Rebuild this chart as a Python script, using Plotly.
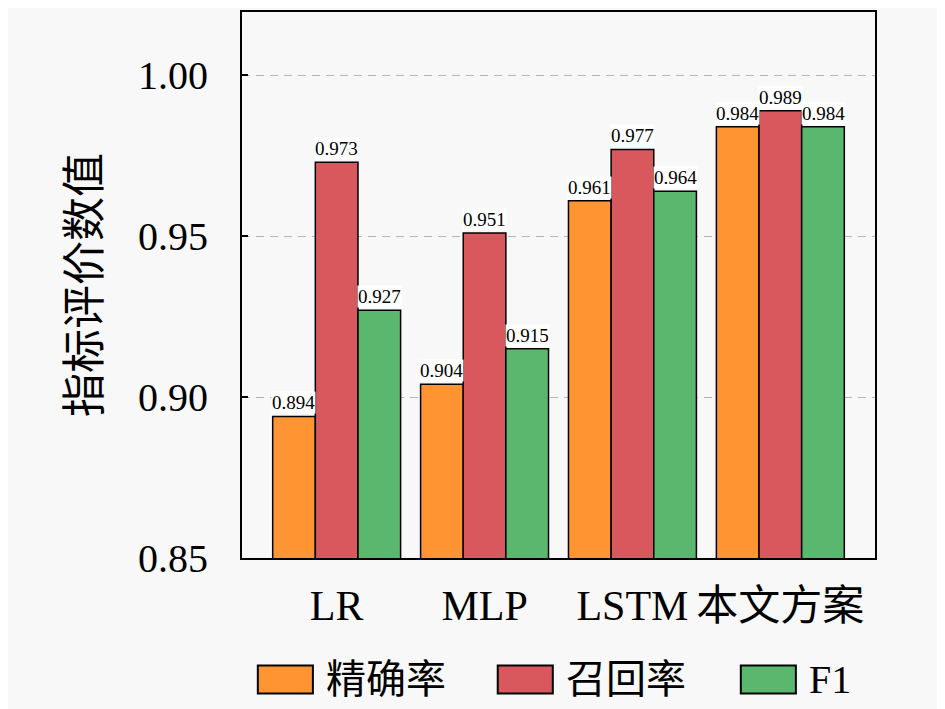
import plotly.graph_objects as go

models = ["LR", "MLP", "LSTM", "本文方案"]
metric_names = ["精确率", "召回率", "F1"]
precision = [0.894, 0.904, 0.961, 0.984]
recall = [0.973, 0.951, 0.977, 0.989]
f1 = [0.927, 0.915, 0.964, 0.984]
y_ticks = [0.85, 0.90, 0.95, 1.00]
y_tick_labels = ["0.85", "0.90", "0.95", "1.00"]

series = [precision, recall, f1]
colours = ["#FF9433", "#D9585E", "#5AB86E"]

font_family = "Liberation Serif, Noto Sans CJK SC"

fig = go.Figure()
for name, vals, col in zip(metric_names, series, colours):
    fig.add_trace(go.Bar(
        x=models,
        y=vals,
        name=name,
        showlegend=False,
        marker=dict(color=col, line=dict(color="black", width=1.5)),
    ))

# value labels above each bar, with a white box behind like the original
bar_px = 43
for j, vals in enumerate(series):
    for m, v in zip(models, vals):
        fig.add_annotation(
            x=m, y=v, text=f"{v:.3f}",
            xshift=(j - 1) * bar_px, yshift=2,
            yanchor="bottom", showarrow=False,
            bgcolor="white", borderpad=0,
            font=dict(size=19, color="black", family=font_family),
        )

# hand-made legend below the plot (big rectangular swatches)
legend_x = [0.025, 0.404, 0.788]  # left edge of each swatch, paper units
sw_w, sw_h, leg_y = 0.087, 0.051, -0.2226
for name, col, lx in zip(metric_names, colours, legend_x):
    fig.add_shape(
        type="rect", xref="paper", yref="paper",
        x0=lx, x1=lx + sw_w, y0=leg_y - sw_h / 2, y1=leg_y + sw_h / 2,
        fillcolor=col, line=dict(color="black", width=2),
    )
    fig.add_annotation(
        xref="paper", yref="paper", x=lx + sw_w + 0.018, y=leg_y,
        xanchor="left", yanchor="middle", showarrow=False,
        text=name, font=dict(size=40, color="black", family=font_family),
    )

fig.update_layout(
    width=945,
    height=709,
    margin=dict(l=234, r=78, t=2, b=159),
    paper_bgcolor="#f8f8f8",
    plot_bgcolor="#f8f8f8",
    barmode="group",
    bargap=0.135,
    bargroupgap=0,
    font=dict(family=font_family, color="black"),
)
fig.update_xaxes(
    range=[-0.64, 3.64],
    showline=True, linecolor="black", linewidth=2, mirror=True,
    tickfont=dict(size=42),
    ticks="", ticklabelstandoff=10,
)
fig.update_yaxes(
    range=[0.85, 1.0197],
    tickvals=y_ticks, ticktext=y_tick_labels,
    showline=True, linecolor="black", linewidth=2, mirror=True,
    ticks="inside", ticklen=6, tickwidth=2, tickcolor="black",
    tickfont=dict(size=40),
    ticklabelstandoff=24,
    showgrid=True, gridcolor="#b4b4b4", griddash="8px,6px", gridwidth=1.2,
    zeroline=False,
    title=dict(text="指标评价数值", font=dict(size=44), standoff=24),
)

fig.write_html("out.html")
